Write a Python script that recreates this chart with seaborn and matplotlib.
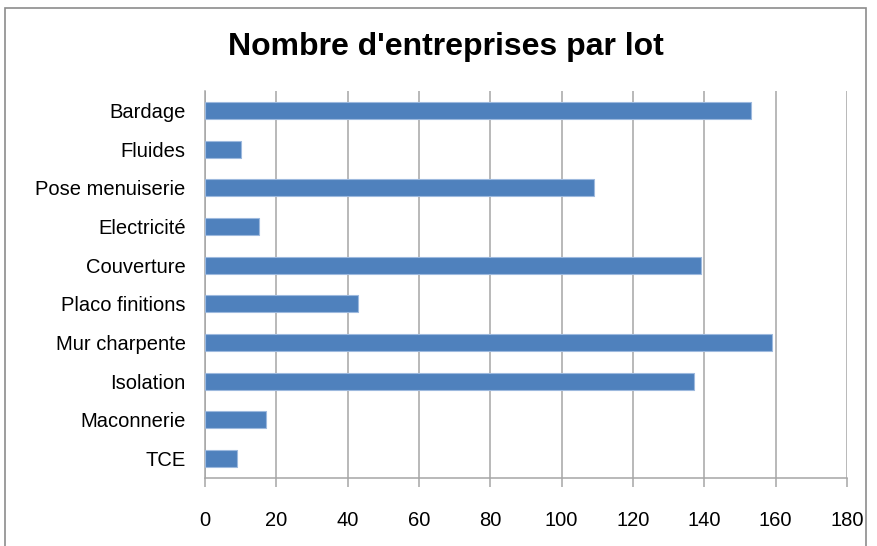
import matplotlib
matplotlib.use("Agg")
import matplotlib.pyplot as plt
import seaborn as sns
from matplotlib.patches import Rectangle

categories = ["Bardage", "Fluides", "Pose menuiserie", "Electricité", "Couverture",
              "Placo finitions", "Mur charpente", "Isolation", "Maconnerie", "TCE"]
counts = [153, 10, 109, 15, 139, 43, 159, 137, 17, 9]
xticks = [0, 20, 40, 60, 80, 100, 120, 140, 160, 180]

sns.set_theme(style="white")
plt.rcParams["font.family"] = ["Liberation Sans", "DejaVu Sans"]

fig = plt.figure(figsize=(8.77, 5.46), dpi=100)
ax = fig.add_axes([205 / 877, 1 - 478 / 546, 642 / 877, 387 / 546])

sns.barplot(x=counts, y=categories, color="#4F81BD", width=0.44,
            edgecolor="#9DB9DE", linewidth=0.8, saturation=1, ax=ax, zorder=3)

ax.set_xlim(0, 180)
ax.set_xticks(xticks)
ax.set_xticklabels([str(t) for t in xticks])
ax.set_ylim(9.5, -0.5)
ax.set_xlabel("")
ax.set_ylabel("")

ax.grid(axis="x", color="#A6A6A6", linewidth=1.1, zorder=0)
ax.grid(axis="y", visible=False)
for side in ["top", "right"]:
    ax.spines[side].set_visible(False)
for side in ["left", "bottom"]:
    ax.spines[side].set_color("#A6A6A6")
    ax.spines[side].set_linewidth(1.1)

ax.tick_params(axis="x", bottom=True, length=6.5, width=1.1, color="#A6A6A6",
               pad=17, labelsize=14.5, labelcolor="#000000")
ax.tick_params(axis="y", left=False, length=0, pad=14, labelsize=14.5,
               labelcolor="#000000")

fig.text(446 / 877, 1 - 47 / 546, "Nombre d'entreprises par lot",
         ha="center", va="center", fontsize=23, fontweight="bold", color="#000000")

# chart frame
fig.patches.append(Rectangle((5 / 877, -0.05), 861 / 877, 1.05 - 8 / 546,
                             transform=fig.transFigure, fill=False,
                             edgecolor="#8C8C8C", linewidth=1.2))

fig.savefig("out.png", dpi=100)
